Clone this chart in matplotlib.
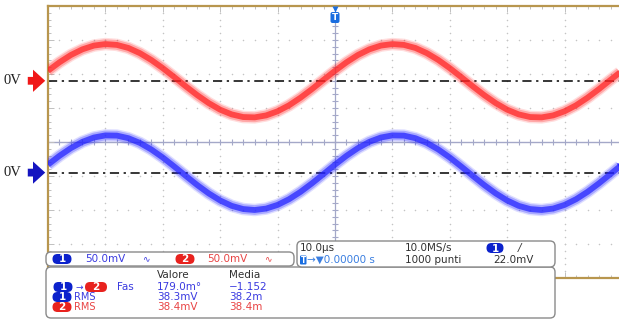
import matplotlib
matplotlib.use("Agg")
import matplotlib.pyplot as plt
import numpy as np
from matplotlib.patches import FancyBboxPatch, FancyArrowPatch
from matplotlib.ticker import MultipleLocator

# ---- data (time in microseconds, voltage in mV) ----
time_us = [-50, -48, -46, -44, -42, -40, -38, -36, -34, -32, -30, -28, -26,
           -24, -22, -20, -18, -16, -14, -12, -10, -8, -6, -4, -2, 0,
           2, 4, 6, 8, 10, 12, 14, 16, 18, 20, 22, 24, 26, 28, 30,
           32, 34, 36, 38, 40, 42, 44, 46, 48, 50]
ch1_mv = [14.7, 27.2, 38.0, 46.3, 51.8, 54.0, 52.8, 48.3, 40.7, 30.6, 18.6, 5.4, -8.1,
          -21.1, -32.8, -42.5, -49.4, -53.3, -53.8, -50.9, -44.8, -36.0, -24.8, -12.1, 1.4, 14.7,
          27.2, 38.0, 46.3, 51.8, 54.0, 52.8, 48.3, 40.7, 30.6, 18.6, 5.4, -8.1,
          -21.1, -32.8, -42.5, -49.4, -53.3, -53.8, -50.9, -44.8, -36.0, -24.8, -12.1, 1.4, 14.7]
ch2_mv = [11.7, 24.7, 36.1, 45.3, 51.6, 54.7, 54.4, 50.6, 43.7, 34.0, 22.2, 8.9, -4.8,
          -18.3, -30.6, -41.0, -48.9, -53.6, -55.0, -52.9, -47.5, -39.1, -28.3, -15.7, -2.1, 11.7,
          24.7, 36.1, 45.3, 51.6, 54.7, 54.4, 50.6, 43.7, 34.0, 22.2, 8.9, -4.8,
          -18.3, -30.6, -41.0, -48.9, -53.6, -55.0, -52.9, -47.5, -39.1, -28.3, -15.7, -2.1, 11.7]
ch_scale_mv = 50.0
ch1_pos = 1.8
ch2_pos = -0.9

W, H = 619, 324
fig = plt.figure(figsize=(W / 100, H / 100), dpi=100)
fig.patch.set_facecolor("white")

gold = "#b8964e"
ax = fig.add_axes([48 / W, 46 / H, 574 / W, 272 / H])
ax.set_xlim(-50, 50)
ax.set_ylim(-4, 4)
ax.set_facecolor("white")
for s in ["top", "left", "bottom"]:
    ax.spines[s].set_color(gold)
    ax.spines[s].set_linewidth(1.6)
ax.spines["right"].set_visible(False)
ax.xaxis.set_major_locator(MultipleLocator(10))
ax.xaxis.set_minor_locator(MultipleLocator(2))
ax.yaxis.set_major_locator(MultipleLocator(1))
ax.yaxis.set_minor_locator(MultipleLocator(0.2))
ax.tick_params(which="both", direction="in", top=True, bottom=True, left=True, right=False,
               labelbottom=False, labelleft=False, color="#c0c0c0", width=0.7)
ax.tick_params(which="major", length=4)
ax.tick_params(which="minor", length=2)

# dotted graticule
dot = "#c4c4c4"
for gx in np.arange(-40, 50, 10):
    if gx == 0:
        continue
    ax.plot(np.full(41, gx), np.linspace(-4, 4, 41), ls="none", marker="o", ms=1.1,
            color=dot, mec="none", zorder=1)
for gy in np.arange(-3, 4, 1):
    if gy == 0:
        continue
    ax.plot(np.linspace(-50, 50, 51), np.full(51, gy), ls="none", marker="o", ms=1.1,
            color=dot, mec="none", zorder=1)

# centre cross with fine ticks
axc = "#a4a8c8"
ax.axhline(0, color=axc, lw=1.0, zorder=1)
ax.axvline(0, color=axc, lw=0.9, zorder=1)
ax.vlines(np.arange(-50, 51, 2), -0.08, 0.08, color=axc, lw=0.8, zorder=1)
ax.hlines(np.arange(-4, 4.01, 0.2), -0.5, 0.5, color=axc, lw=0.8, zorder=1)

# 0V reference lines
ax.axhline(ch1_pos, color="black", lw=1.1, ls=(0, (6, 3, 1.5, 3)), zorder=2)
ax.axhline(ch2_pos, color="black", lw=1.1, ls=(0, (6, 3, 1.5, 3)), zorder=2)

# traces (blurred phosphor look)
t = np.asarray(time_us)
y1 = np.asarray(ch1_mv) / ch_scale_mv + ch1_pos
y2 = np.asarray(ch2_mv) / ch_scale_mv + ch2_pos
for yy, col in [(y1, "#ff2222"), (y2, "#2222ff")]:
    ax.plot(t, yy, color=col, lw=9, alpha=0.15, solid_capstyle="butt", zorder=3)
    ax.plot(t, yy, color=col, lw=7, alpha=0.28, solid_capstyle="butt", zorder=3)
    ax.plot(t, yy, color=col, lw=4.2, alpha=0.72, solid_capstyle="butt", zorder=3)
ax.plot([t[-1] - 0.4], [y2[-1]], marker=(3, 0, -60), ms=6, color="#2222ff", mec="none",
        zorder=4, clip_on=False)

# ---------------- overlay in pixel coordinates ----------------
ov = fig.add_axes([0, 0, 1, 1], zorder=5)
ov.set_xlim(0, W)
ov.set_ylim(H, 0)
ov.axis("off")
ov.patch.set_alpha(0)

FONT = "DejaVu Sans"
BLUE_PILL = "#0c22cc"
RED_PILL = "#e8221e"
BLUE_TXT = "#3a3ae0"
RED_TXT = "#e84444"
DARK = "#303030"
LBLUE = "#3a7ee0"


def panel(x0, y0, x1, y1, r=5):
    ov.add_patch(FancyBboxPatch((x0, y0), x1 - x0, y1 - y0,
                                boxstyle=f"round,pad=0,rounding_size={r}",
                                fc="white", ec="#8a8a8a", lw=1.0, zorder=6))


def pill(cx, cy, label, col, w=19, h=10):
    ov.add_patch(FancyBboxPatch((cx - w / 2, cy - h / 2), w, h,
                                boxstyle=f"round,pad=0,rounding_size={h/2}",
                                fc=col, ec="none", zorder=7))
    ov.text(cx, cy + 0.5, label, color="white", fontsize=7.5, fontweight="bold",
            ha="center", va="center", family=FONT, zorder=8)


def txt(x, y, s, col, size=7.5, **kw):
    ov.text(x, y, s, color=col, fontsize=size, ha="left", va="center",
            family=FONT, zorder=8, **kw)


# panels
panel(46, 267, 555, 318)
panel(46, 252, 294, 266)
panel(297, 241, 555, 267)

# channel scale panel
pill(62, 259, "1", BLUE_PILL)
txt(85, 259, "50.0mV", BLUE_TXT)
txt(142, 259, "∿", BLUE_TXT, size=6.5)
pill(185, 259, "2", RED_PILL)
txt(207, 259, "50.0mV", RED_TXT)
txt(264, 259, "∿", RED_TXT, size=6.5)

# time base panel
txt(300, 248, "10.0µs", DARK)
txt(405, 248, "10.0MS/s", DARK)
pill(495, 248, "1", BLUE_PILL, w=17)
txt(518, 248, "/", DARK, size=7.5, style="italic")
ov.add_patch(FancyBboxPatch((300, 255.5), 6.5, 9, boxstyle="round,pad=0,rounding_size=1",
                            fc="#1a6ee0", ec="none", zorder=7))
ov.text(303.3, 260.3, "T", color="white", fontsize=5.5, fontweight="bold",
        ha="center", va="center", family=FONT, zorder=8)
txt(307, 260, "→▼0.00000 s", LBLUE)
txt(405, 260, "1000 punti", DARK)
txt(493, 260, "22.0mV", DARK)

# measurement panel
txt(157, 275, "Valore", DARK)
txt(229, 275, "Media", DARK)
pill(63, 287, "1", BLUE_PILL)
txt(75, 287, "→", BLUE_TXT, size=6.5)
pill(96, 287, "2", RED_PILL, w=22)
txt(117, 287, "Fas", BLUE_TXT)
txt(157, 287, "179.0m°", BLUE_TXT)
txt(229, 287, "−1.152", BLUE_TXT)
pill(62, 297, "1", BLUE_PILL)
txt(74, 297, "RMS", BLUE_TXT, size=7)
txt(157, 297, "38.3mV", BLUE_TXT)
txt(229, 297, "38.2m", BLUE_TXT)
pill(62, 307, "2", RED_PILL)
txt(74, 307, "RMS", RED_TXT, size=7)
txt(157, 307, "38.4mV", RED_TXT)
txt(229, 307, "38.4m", RED_TXT)

# 0V markers and arrows on the left
y_red = 142 - ch1_pos * 34
y_blue = 142 - ch2_pos * 34
for yy, col in [(y_red, "#f01818"), (y_blue, "#1414c0")]:
    ov.text(4, yy, "0V", fontsize=10.5, family="Liberation Serif", color="#202020",
            ha="left", va="center", zorder=8)
    ov.add_patch(FancyArrowPatch((25, yy), (48, yy),
                                 arrowstyle="simple,head_length=0.55,head_width=1.0,tail_width=0.35",
                                 mutation_scale=16, color=col, lw=0, zorder=8))

# trigger marker at top
ov.plot([335], [9], marker="v", color="#1a6ee0", ms=5, mec="none", zorder=8)
ov.add_patch(FancyBboxPatch((330.5, 12), 9, 11, boxstyle="round,pad=0,rounding_size=2",
                            fc="#1a6ee0", ec="none", zorder=7))
ov.text(335, 17.5, "T", color="white", fontsize=6.5, fontweight="bold",
        ha="center", va="center", family=FONT, zorder=8)

fig.savefig("out.png", dpi=100, facecolor="white")
